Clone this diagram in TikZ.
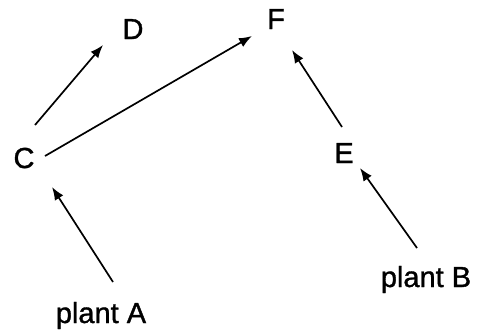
\documentclass[tikz,border=0pt]{standalone}
\usepackage{fontspec}
\setmainfont{Liberation Sans}
\newfontfamily\lblfont[FakeBold=1.2]{Liberation Sans}
\usetikzlibrary{arrows.meta,calc}
\begin{document}
\begin{tikzpicture}[x=1pt,y=-1pt,
  lbl/.style={inner sep=0pt,anchor=base,font=\lblfont\fontsize{29}{32}\selectfont},
  arr/.style={line width=1.7pt,-{Latex[length=13pt,width=10pt]}}]
\useasboundingbox (0,0) rectangle (478,335);
\node[lbl] (C) at (24,168) {C};
\node[lbl] (D) at (133,39) {D};
\node[lbl] (F) at (276,29) {F};
\node[lbl] (E) at (344,163) {E};
\node[lbl] (A) at (101,323) {plant A};
\node[lbl] (B) at (426,287) {plant B};
\draw[arr] ($(C.base)+(11,-43)$) -- ($(D.base)+(-30,6)$);
\draw[arr] ($(C.base)+(21,-12)$) -- ($(F.base)+(-24,7)$);
\draw[arr] ($(E.base)+(-2,-36)$) -- ($(F.base)+(16,21)$);
\draw[arr] ($(B.base)+(-9,-39)$) -- ($(E.base)+(16,5)$);
\draw[arr] ($(A.base)+(12,-41)$) -- ($(C.base)+(28,19)$);
\end{tikzpicture}
\end{document}
